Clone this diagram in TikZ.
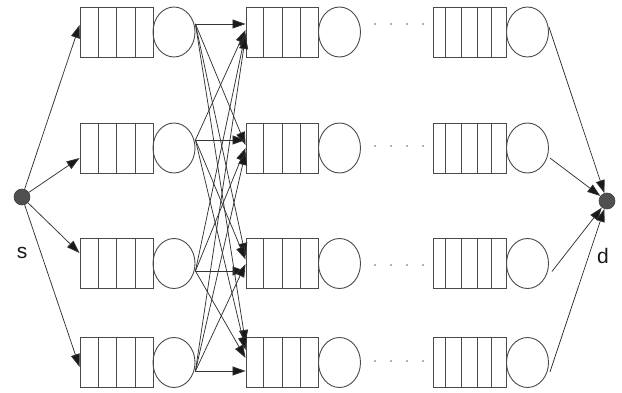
\documentclass[tikz,border=0pt]{standalone}
\usepackage{fontspec}
\setmainfont{Liberation Sans}
\usetikzlibrary{arrows.meta,shapes.geometric,calc}
\definecolor{ln}{HTML}{333333}
\definecolor{bx}{HTML}{4A4A4A}
\definecolor{dotc}{HTML}{505050}
\tikzset{
  queuebox/.style={draw=bx, line width=0.9pt, rectangle, minimum width=73pt, minimum height=50pt, inner sep=0pt},
  server/.style={draw=bx, line width=0.9pt, ellipse, minimum width=42pt, minimum height=50pt, inner sep=0pt},
  endpt/.style={circle, fill=dotc, draw=black!75, line width=0.6pt, minimum size=16pt, inner sep=0pt},
  arr/.style={draw=ln, line width=0.75pt, -{Triangle[length=13pt,width=9pt,fill=black!90]}},
  divider/.style={draw=bx, line width=0.9pt},
  lbl/.style={font=\fontsize{21}{23}\selectfont, text=black!90, inner sep=0pt}
}
\begin{document}
\begin{tikzpicture}[x=1pt,y=-1pt]
\useasboundingbox (0,0) rectangle (622,393);

% queues and servers
\foreach \r/\y in {1/32,2/148,3/263.5,4/362.5}{
  \node[queuebox] (qa\r) at (116.5,\y) {};
  \node[server]   (ca\r) at (174,\y) {};
  \node[queuebox, minimum width=72pt] (qb\r) at (282,\y) {};
  \node[server]   (cb\r) at (339.5,\y) {};
  \node[queuebox] (qc\r) at (469.5,\y) {};
  \node[server]   (cc\r) at (527.5,\y) {};
  \foreach \k in {0.25,0.5,0.75}{
    \draw[divider] ($(qa\r.north west)!\k!(qa\r.north east)$) -- ($(qa\r.south west)!\k!(qa\r.south east)$);
    \draw[divider] ($(qb\r.north west)!\k!(qb\r.north east)$) -- ($(qb\r.south west)!\k!(qb\r.south east)$);
  }
  \foreach \k in {0.18,0.39,0.61,0.8}{
    \draw[divider] ($(qc\r.north west)!\k!(qc\r.north east)$) -- ($(qc\r.south west)!\k!(qc\r.south east)$);
  }
}

% ellipsis dots
\foreach \y in {24,146,265,361}{
  \foreach \x in {375,391,407,423}{
    \fill[black!60] (\x,\y) circle (0.8pt);
  }
}

% source and destination
\node[endpt] (s) at (22,197) {};
\node[endpt] (d) at (607,201) {};
\node[lbl] (slabel) at (22,253) {s};
\node[lbl] (dlabel) at (603,256) {d};

% source to first column
\draw[arr] (s) -- ($(qa1.west)+(0,-7)$);
\draw[arr] (s) -- ($(qa2.west)+(0,10)$);
\draw[arr] (s) -- ($(qa3.west)+(0,-10.5)$);
\draw[arr] (s) -- ($(qa4.west)+(0,4.5)$);

% start points on first column servers
\coordinate (o1) at ($(ca1.east)+(0,-8)$);
\coordinate (o2) at ($(ca2.east)+(0,-8)$);
\coordinate (o3) at ($(ca3.east)+(0,7.5)$);
\coordinate (o4) at ($(ca4.east)+(0,8.5)$);

% full mesh between first and second column
\foreach \i/\j/\dy in {1/1/-8,2/1/-2,3/1/1,4/1/4,
                       1/2/-3,2/2/-8,3/2/0,4/2/4,
                       1/3/-7.5,2/3/-4,3/3/7.5,4/3/0.5,
                       1/4/-19.5,2/4/-12.5,3/4/-4.5,4/4/8.5}{
  \draw[arr] (o\i) -- ($(qb\j.west)+(0,\dy)$);
}

% last column to destination
\draw[arr] ($(cc1.east)+(0,-5)$) -- (d);
\draw[arr] ($(cc2.east)+(1,10)$) -- (d);
\draw[arr] ($(cc3.east)+(3,8)$) -- (d);
\draw[arr] ($(cc4.east)+(1,9.5)$) -- (d);
\end{tikzpicture}
\end{document}
